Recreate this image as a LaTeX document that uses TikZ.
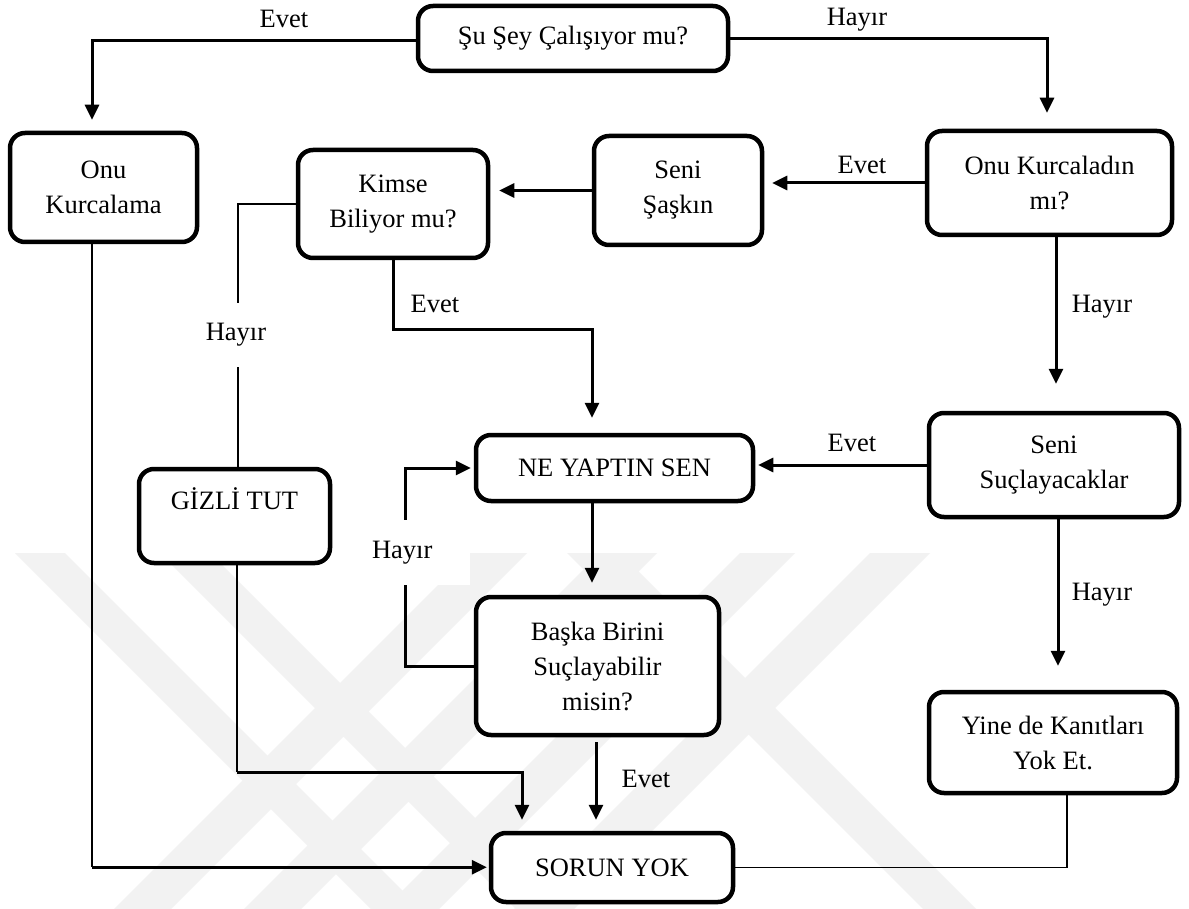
\documentclass[tikz,border=0pt]{standalone}
\usepackage{fontspec}
\setmainfont{Liberation Serif}
\usetikzlibrary{arrows.meta}
\begin{document}
\begin{tikzpicture}[x=1pt,y=-1pt,
  txt/.style={font=\fontsize{26.5}{35}\selectfont},
  box/.style={txt, draw, line width=4.5pt, rounded corners=15pt, fill=white,
    align=center, inner sep=0pt},
  lbl/.style={txt, inner sep=0pt, anchor=base},
  conn/.style={line width=3pt},
  medconn/.style={line width=2.2pt},
  thinconn/.style={line width=1.6pt},
  arr/.style={conn, -{Triangle[length=15pt,width=14pt]}},
  wmark/.style={fill=black!5}]

% page
\fill[white] (0,0) rectangle (1189,909);
\useasboundingbox (0,0) rectangle (1189,909);

% faint background stripes
\begin{scope}
  \clip (0,553) rectangle (1189,909);
  \foreach \a/\b in {15/65,160/210,567/620}
    \fill[wmark] (\a,553) -- (\b,553) -- (\b+356,909) -- (\a+356,909) -- cycle;
  \foreach \a/\b in {470/527,600/657,740/795,870/930}
    \fill[wmark] (\a,553) -- (\b,553) -- (\b-356,909) -- (\a-356,909) -- cycle;
\end{scope}

% boxes
\node[box, minimum width=310pt, minimum height=65pt] (q1) at (573,38.5) {Şu Şey Çalışıyor mu?};
\node[box, minimum width=187pt, minimum height=109pt] (onu) at (103.5,187.5) {Onu\\Kurcalama};
\node[box, minimum width=190pt, minimum height=108pt] (kimse) at (393,204) {Kimse\\Biliyor mu?};
\node[box, minimum width=168pt, minimum height=109pt] (saskin) at (678,190.5) {Seni\\Şaşkın};
\node[box, minimum width=245pt, minimum height=104pt] (kurc) at (1049.5,183) {Onu Kurcaladın\\mı?};
\node[box, minimum width=277pt, minimum height=66pt] (ne) at (614.5,468) {NE YAPTIN SEN};
\node[box, minimum width=250pt, minimum height=104pt] (suc) at (1054,465) {Seni\\Suçlayacaklar};
\node[box, minimum width=191pt, minimum height=94pt] (gizli) at (234.5,516) {GİZLİ TUT\\~};
\node[box, minimum width=243pt, minimum height=138pt] (baska) at (597.5,666) {Başka Birini\\Suçlayabilir\\misin?};
\node[box, minimum width=248pt, minimum height=101pt] (yine) at (1053,742.5) {Yine de Kanıtları\\Yok Et.};
\node[box, minimum width=242pt, minimum height=69pt] (sorun) at (612,867.5) {SORUN YOK};

% connectors
\draw[arr, shorten >=11pt] ([yshift=-2pt]q1.west) -| ([xshift=-11.5pt]onu.north);
\draw[arr, shorten >=16pt] (q1.east) -| ([xshift=-2.5pt]kurc.north);
\draw[arr, shorten >=8pt] (kurc.west) -- (kurc.west -| saskin.east);
\draw[arr, shorten >=9pt] (saskin.west) -- (saskin.west -| kimse.east);
\draw[thinconn] (kimse.west) -| ([xshift=3.5pt]gizli.north);
\draw[arr, shorten >=15pt] (kimse.south) -- ++(0,69) -| ([xshift=-22.5pt]ne.north);
\draw[arr, shorten >=3pt] (suc.west) -- (suc.west -| ne.east);

\coordinate (k2) at ([xshift=6.5pt]kurc.south);
\draw[arr, shorten >=27pt] (k2) -- (k2 |- suc.north);
\coordinate (s2) at ([xshift=4pt]suc.south);
\draw[arr, shorten >=24pt] (s2) -- (s2 |- yine.north);
\coordinate (n2) at ([xshift=-22.5pt]ne.south);
\draw[arr, shorten >=12pt] (n2) -- (n2 |- baska.north);

\draw[arr, shorten >=3pt] (baska.west) -- ++(-68,0) |- (ne.west);

\coordinate (b2) at ([xshift=-1.5pt]baska.south);
\draw[arr, shorten <=5pt, shorten >=11pt] (b2) -- (b2 |- sorun.north);

\draw[thinconn] ([xshift=2.5pt]gizli.south) -- ++(0,207) coordinate (g1);
\draw[arr, shorten >=11pt] (g1) -| ([xshift=-90pt]sorun.north);

\draw[medconn] ([xshift=-11.5pt]onu.south) -- ++(0,623) coordinate (o1);
\draw[arr, shorten >=2pt] (o1) -- (o1 -| sorun.west);

\draw[thinconn] ([xshift=14pt]yine.south) |- (sorun.east);

% labels
\node[lbl] (l1) at (284,28) {Evet};
\node[lbl] (l2) at (857,26) {Hayır};
\node[lbl] (l3) at (862,174) {Evet};
\node[lbl] (l4) at (435,313) {Evet};
\node[lbl] (l5) at (852,451) {Evet};
\node[lbl] (l6) at (1102,313) {Hayır};
\node[lbl] (l7) at (1102,600) {Hayır};
\node[lbl] (l8) at (646,787) {Evet};
\node[txt, fill=white, inner sep=2pt, minimum height=64pt] (l9) at (236,335) {Hayır};
\node[txt, fill=white, inner xsep=8pt, inner ysep=0pt, text width=90pt, align=left,
  minimum height=65pt] (l10) at (417,552.5) {Hayır};
\end{tikzpicture}
\end{document}
